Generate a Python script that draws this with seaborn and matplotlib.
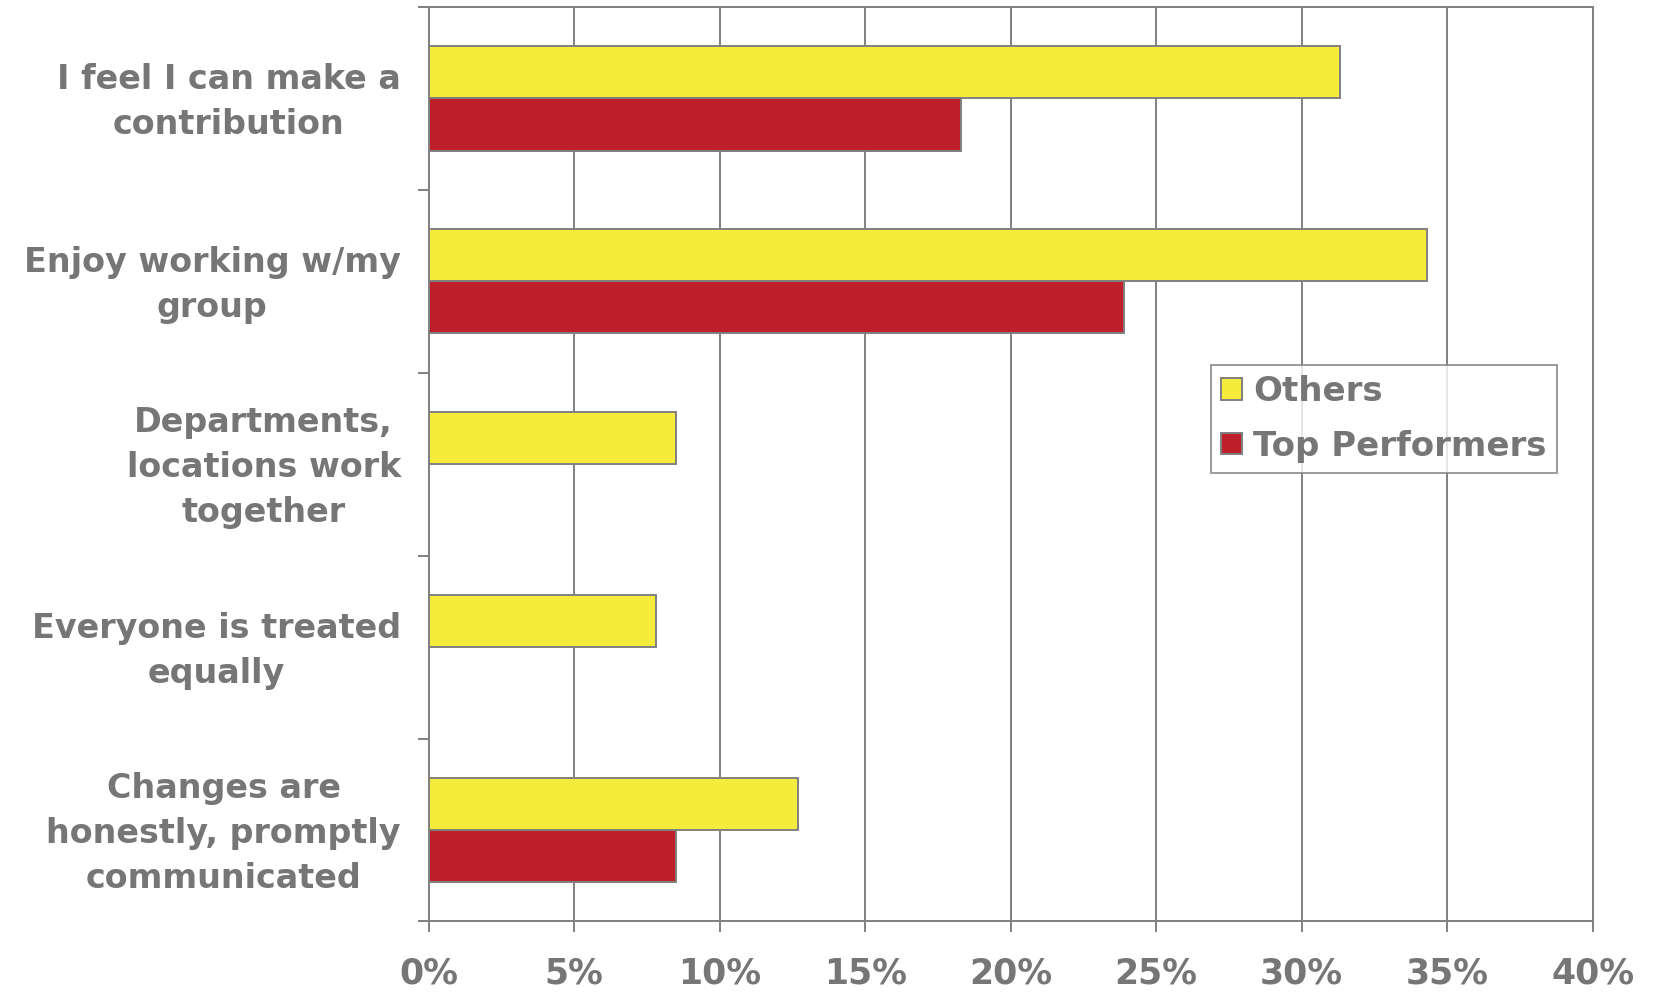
import matplotlib
matplotlib.use("Agg")
import matplotlib.pyplot as plt
import matplotlib.transforms as mtransforms
import seaborn as sns
import pandas as pd
import numpy as np
from matplotlib.ticker import FixedLocator, FuncFormatter

# Survey responses: share of each group citing the statement
statements = [
    "I feel I can make a\ncontribution",
    "Enjoy working w/my\ngroup",
    "Departments,\nlocations work\ntogether",
    "Everyone is treated\nequally",
    "Changes are\nhonestly, promptly\ncommunicated",
]
others = [31.3, 34.3, 8.5, 7.8, 12.7]
top_performers = [18.3, 23.9, 0.0, 0.0, 8.5]
groups = ["Others", "Top Performers"]
x_ticks = [0, 5, 10, 15, 20, 25, 30, 35, 40]

df = pd.DataFrame({
    "Statement": statements * 2,
    "Share": others + top_performers,
    "Group": [groups[0]] * len(statements) + [groups[1]] * len(statements),
})

YELLOW = "#F5EB3B"
RED = "#BF1E2B"
GRAY = "#808080"
TEXT = "#767676"

sns.set_theme(style="white")
plt.rcParams["font.family"] = ["DejaVu Sans"]
plt.rcParams["font.weight"] = "bold"

fig = plt.figure(figsize=(16.54, 9.92), dpi=100)
ax = fig.add_axes([0.2591, 0.0711, 0.963 - 0.2591, 0.9929 - 0.0711])

sns.barplot(
    data=df, y="Statement", x="Share", hue="Group", hue_order=groups,
    order=statements, orient="h", palette=[YELLOW, RED], width=0.57,
    edgecolor=GRAY, linewidth=1.4, saturation=1, ax=ax,
)

ax.set_xlim(0, 40)
ax.set_ylim(len(statements) - 0.5, -0.5)
ax.set_axisbelow(True)

# Vertical gridlines at each 5%
ax.xaxis.set_major_locator(FixedLocator(x_ticks))
ax.xaxis.set_major_formatter(FuncFormatter(lambda v, p: f"{v:.0f}%"))
ax.grid(axis="x", color=GRAY, linewidth=1.4)
ax.grid(axis="y", visible=False)

for s in ax.spines.values():
    s.set_color(GRAY)
    s.set_linewidth(1.4)

ax.tick_params(axis="x", which="major", bottom=True, length=8, width=1.4,
               color=GRAY, labelsize=25, labelcolor=TEXT, pad=17)
# Category labels sit between boundary tick marks
ax.tick_params(axis="y", which="major", left=False, length=0, labelsize=24,
               labelcolor=TEXT, pad=20)
ax.yaxis.set_minor_locator(FixedLocator(np.arange(-0.5, len(statements), 1.0)))
ax.tick_params(axis="y", which="minor", left=True, length=8, width=1.4, color=GRAY)
nudge = mtransforms.ScaledTranslation(0, -0.037, fig.dpi_scale_trans)
for t in ax.get_yticklabels():
    t.set_multialignment("center")
    t.set_verticalalignment("center")
    t.set_linespacing(1.46)
    t.set_fontweight("bold")
    t.set_transform(t.get_transform() + nudge)
for t in ax.get_xticklabels():
    t.set_fontweight("bold")

ax.set_xlabel("")
ax.set_ylabel("")

leg = ax.legend(
    loc="upper left", bbox_to_anchor=(0.672, 0.6085), frameon=True,
    fancybox=False, shadow=False, fontsize=24.5, handlelength=0.6,
    handleheight=0.6, handletextpad=0.35, labelspacing=0.63, borderpad=0.3,
    borderaxespad=0, title=None,
)
leg.get_frame().set_edgecolor(GRAY)
leg.get_frame().set_linewidth(1.4)
for txt in leg.get_texts():
    txt.set_color(TEXT)
    txt.set_fontweight("bold")

fig.savefig("out.png", dpi=100, facecolor="white")
